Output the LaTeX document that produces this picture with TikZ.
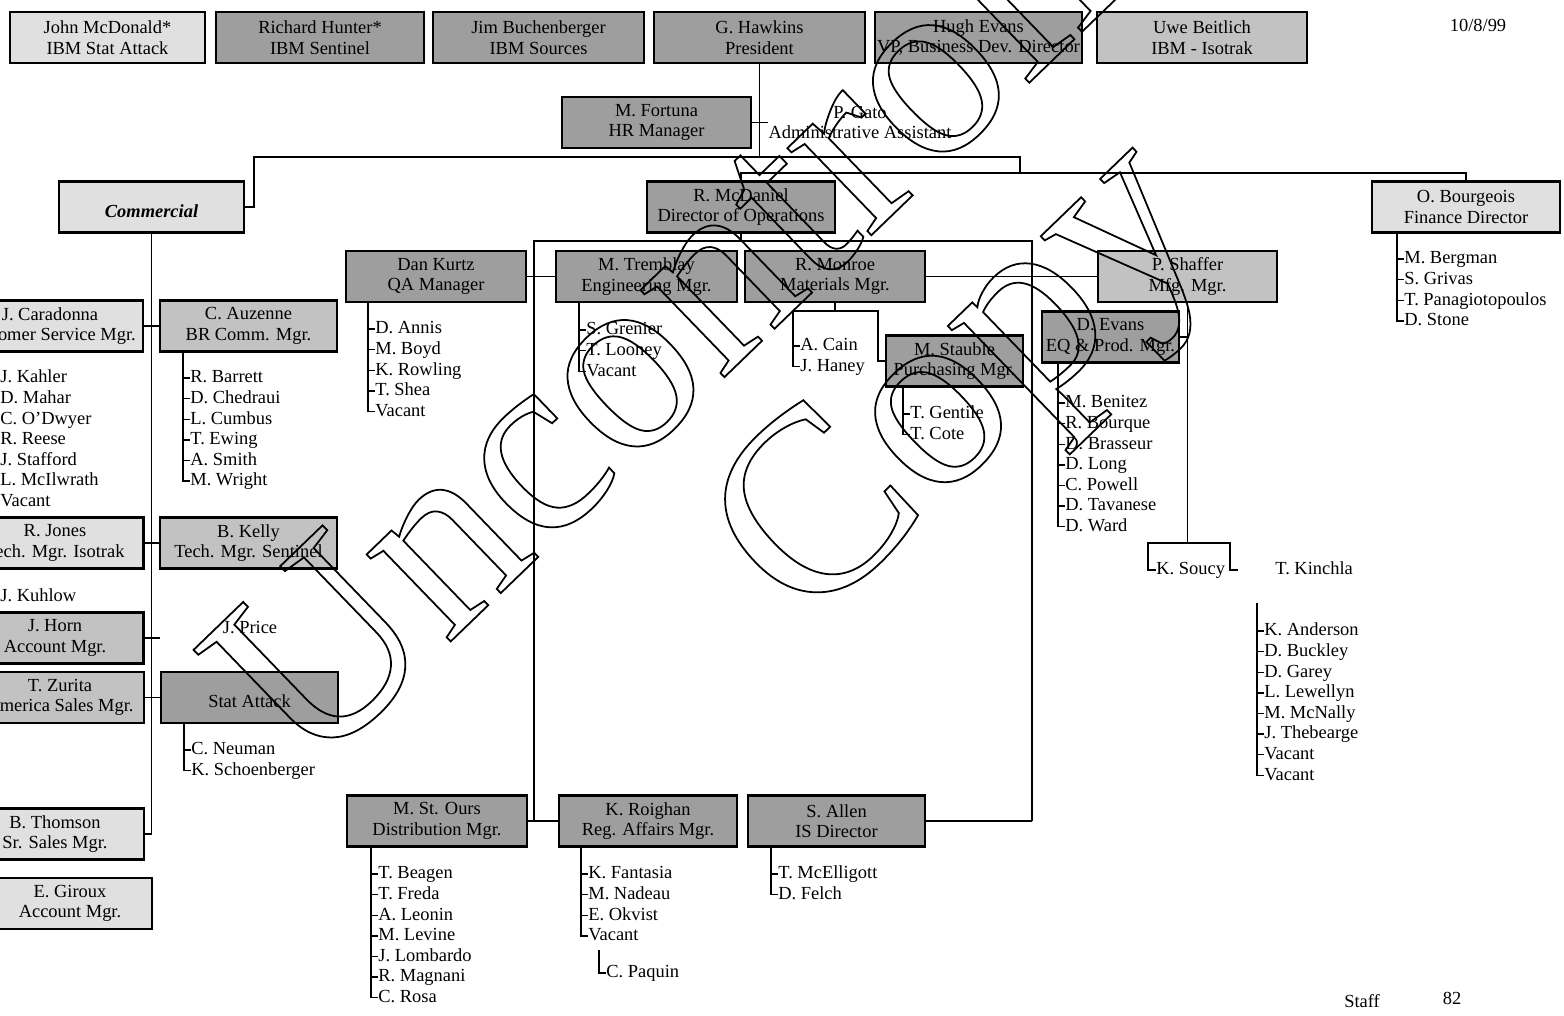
\documentclass[tikz,border=0pt]{standalone}
\usepackage{fontspec}
\setmainfont{Liberation Serif}
\definecolor{stipple}{gray}{0.62}
\definecolor{midshade}{gray}{0.76}
\definecolor{paleshade}{gray}{0.88}
\tikzset{
  unit/.style={draw,line width=1.6pt,fill=#1,minimum height=1.02cm,
    inner sep=0pt,align=center},
  unit/.default=stipple,
  staff/.style={anchor=west,inner sep=0pt,text height=7.5pt,text depth=2pt},
  link/.style={line width=0.8pt},
  stamp/.style={rotate=44,inner sep=0pt,font=\fontsize{150}{132}\selectfont},
}
% outlined text for the stamp
\newcommand\hollow[1]{\special{pdf:literal direct 1 Tr 1 w}#1\special{pdf:literal direct 0 Tr}}
% staff list hanging from a trunk: prefix, trunk x, trunk top y, first row y, names
\newcommand\roster[5]{%
  \coordinate (#1-0) at (#2,#3);
  \foreach \nm [count=\i, remember=\i as \j (initially 0)] in {#5} {
    \node[staff] (#1-\i) at (#2+7,{#4+20.6*(\i-1)}) {\nm};
    \draw[link] (#1-0 |- #1-\j) -- (#1-0 |- #1-\i) -- (#1-\i.west);
  }}

\begin{document}
\begin{tikzpicture}[x=0.02cm,y=-0.02cm,font=\fontsize{10.5}{11.7}\selectfont]
\useasboundingbox (0,0) rectangle (1564,1015);
% board
\node[unit=paleshade,minimum width=3.9cm] (mcdonald) at (107.5,37.5) {John McDonald*\\IBM Stat Attack};
\node[unit,minimum width=4.16cm] (hunter) at (320,37.5) {Richard Hunter*\\IBM Sentinel};
\node[unit,minimum width=4.22cm] (buchenberger) at (538.5,37.5) {Jim Buchenberger\\IBM Sources};
\node[unit,minimum width=4.22cm] (hawkins) at (759.5,37.5) {G. Hawkins\\President};
\node[unit,minimum width=4.14cm] (hevans) at (978.5,37.5) {Hugh Evans\\VP, Business Dev. Director};
\node[unit=midshade,minimum width=4.2cm] (beitlich) at (1202,37.5) {Uwe Beitlich\\IBM - Isotrak};
\node (date) at (1478,25) {10/8/99};

\node[unit,minimum width=3.78cm] (fortuna) at (656.5,122.5) {M. Fortuna\\HR Manager};
\node[align=center,inner sep=0pt] (gato) at (860,122.5) {P. Gato\\Administrative Assistant};
\draw[link] (fortuna.east) -- (gato.west);

% main bus
\coordinate (bus-w) at (254,157);
\coordinate (bus-step) at (1020,157);
\coordinate (bus-e) at (1466,173);
\node[unit=paleshade,minimum width=3.7cm,font=\fontsize{10.5}{11.7}\selectfont\bfseries\itshape] (commercial) at (151.5,207) {\mbox{}\\Commercial};
\node[unit,minimum width=3.76cm] (mcdaniel) at (741,207) {R. McDaniel\\Director of Operations};
\node[unit=paleshade,minimum width=3.76cm] (bourgeois) at (1466,207) {O. Bourgeois\\Finance Director};
\draw[link] (hawkins.south) -- (hawkins.south |- bus-w);
\draw[link] (commercial.east) -| (bus-w) -- (bus-step) |- (bus-e) -- (bourgeois.north);
\draw[link] (mcdaniel.north) |- (bus-e);
\roster{fin}{1397}{232}{259}{M. Bergman,S. Grivas,T. Panagiotopoulos,D. Stone}

% operations
\coordinate (ops-nw) at (534,241);
\coordinate (ops-ne) at (1032,241);
\coordinate (ops-se) at (1032,821);
\coordinate (ops-sw) at (534,821);
\draw[link] (mcdaniel.south) -- (mcdaniel.south |- ops-nw);
\draw[link] (ops-sw) -- (ops-nw) -- (ops-ne) -- (ops-se);

\node[unit,minimum width=3.6cm] (kurtz) at (436,276.5) {Dan Kurtz\\QA Manager};
\node[unit,minimum width=3.62cm] (tremblay) at (646.5,276.5) {M. Tremblay\\Engineering Mgr.};
\node[unit,minimum width=3.6cm] (monroe) at (835,276.5) {R. Monroe\\Materials Mgr.};
\node[unit=midshade,minimum width=3.58cm] (shaffer) at (1187.5,276.5) {P. Shaffer\\Mfg. Mgr.};
\node[unit,minimum width=2.74cm] (devans) at (1110.5,337) {D. Evans\\EQ \& Prod. Mgr.};
\node[unit,minimum width=2.74cm] (stauble) at (954.5,361) {M. Stauble\\Purchasing Mgr.};
\draw[link] (kurtz.east) -- (tremblay.west);
\draw[link] (monroe.east) -- (shaffer.west);

\roster{qa}{368}{303}{329}{D. Annis,M. Boyd,K. Rowling,T. Shea,Vacant}
\roster{eng}{579}{303}{330}{S. Grenier,T. Looney,Vacant}
\roster{mat}{793}{311}{346}{A. Cain,J. Haney}
\coordinate (mat-r) at (878,311);
\draw[link] (monroe.south) -- (monroe.south |- mat-0);
\draw[link] (mat-0) -- (mat-r) |- (stauble.west);
\roster{pur}{903}{387}{414}{T. Gentile,T. Cote}
\roster{prod}{1058}{363}{403}{M. Benitez,R. Bourque,D. Brasseur,D. Long,C. Powell,D. Tavanese,D. Ward}

\coordinate (mfg-l) at (1148,543);
\coordinate (mfg-r) at (1230,543);
\coordinate (mfg-stub) at (1238,570);
\node[staff] (soucy) at (1156,570) {K. Soucy};
\node[staff] (kinchla) at (1275,570) {T. Kinchla};
\draw[link] (shaffer.south) -- (shaffer.south |- mfg-l);
\draw[link] (devans.east) -- (devans.east -| shaffer.south);
\draw[link] (soucy.west) -| (mfg-l) -- (mfg-r) |- (mfg-stub);
\roster{line}{1257}{603}{631}{K. Anderson,D. Buckley,D. Garey,L. Lewellyn,M. McNally,J. Thebearge,Vacant,Vacant}

\node[unit,minimum width=3.6cm] (stours) at (437,821) {M. St. Ours\\Distribution Mgr.};
\node[unit,minimum width=3.56cm] (roighan) at (648,821) {K. Roighan\\Reg. Affairs Mgr.};
\node[unit,minimum width=3.54cm] (allen) at (836.5,821) {S. Allen\\IS Director};
\draw[link] (stours.east) -- (roighan.west);
\draw[link] (allen.east) -- (ops-se);
\roster{dist}{371}{847}{874}{T. Beagen,T. Freda,A. Leonin,M. Levine,J. Lombardo,R. Magnani,C. Rosa}
\roster{reg}{581}{847}{874}{K. Fantasia,M. Nadeau,E. Okvist,Vacant}
\roster{paq}{599}{950}{973}{C. Paquin}
\roster{is}{771}{847}{874}{T. McElligott,D. Felch}

% commercial
\node[unit=paleshade,minimum width=3.72cm] (caradonna) at (50,326) {J. Caradonna\\Customer Service Mgr.};
\node[unit=midshade,minimum width=3.54cm] (auzenne) at (248.5,326) {C. Auzenne\\BR Comm. Mgr.};
\node[unit=paleshade,minimum width=3.54cm] (jones) at (55,543) {R. Jones\\Tech. Mgr. Isotrak};
\node[unit=midshade,minimum width=3.54cm] (kelly) at (248.5,543) {B. Kelly\\Tech. Mgr. Sentinel};
\node[unit=midshade,minimum width=3.54cm] (horn) at (55,638) {J. Horn\\Account Mgr.};
\node[unit=midshade,minimum width=3.36cm] (zurita) at (60,697.5) {T. Zurita\\America Sales Mgr.};
\node[unit,minimum width=3.54cm] (statattack) at (249.5,697.5) {\mbox{}\\Stat Attack};
\node[unit=paleshade,minimum width=3.56cm] (thomson) at (55,834) {B. Thomson\\Sr. Sales Mgr.};
\node[unit=paleshade,minimum width=3.28cm] (giroux) at (70,903.5) {E. Giroux\\Account Mgr.};
\node (price) at (250,628) {J. Price};
\coordinate (horn-stub) at (160,638);
\draw[link] (commercial.south) -- (commercial.south |- thomson.east) -- (thomson.east);
\draw[link] (caradonna.east) -- (auzenne.west);
\draw[link] (jones.east) -- (kelly.west);
\draw[link] (horn.east) -- (horn-stub);
\draw[link] (zurita.east) -- (statattack.west);
\roster{cs}{-7}{351}{378}{J. Kahler,D. Mahar,C. O'Dwyer,R. Reese,J. Stafford,L. McIlwrath,Vacant}
\node[staff] (kuhlow) at (0,597) {J. Kuhlow};
\roster{br}{183}{352}{378}{R. Barrett,D. Chedraui,L. Cumbus,T. Ewing,A. Smith,M. Wright}
\roster{sa}{184}{723}{750}{C. Neuman,K. Schoenberger}

\node (stafflabel) at (1362,1001) {Staff};
\node (headcount) at (1452,998) {82};

% stamp across the sheet
\node[stamp] (stamp-a) at (747,230) {\hollow{Uncontrolled}};
\node[stamp] (stamp-b) at (971,390) {\hollow{Copy}};
\end{tikzpicture}
\end{document}
